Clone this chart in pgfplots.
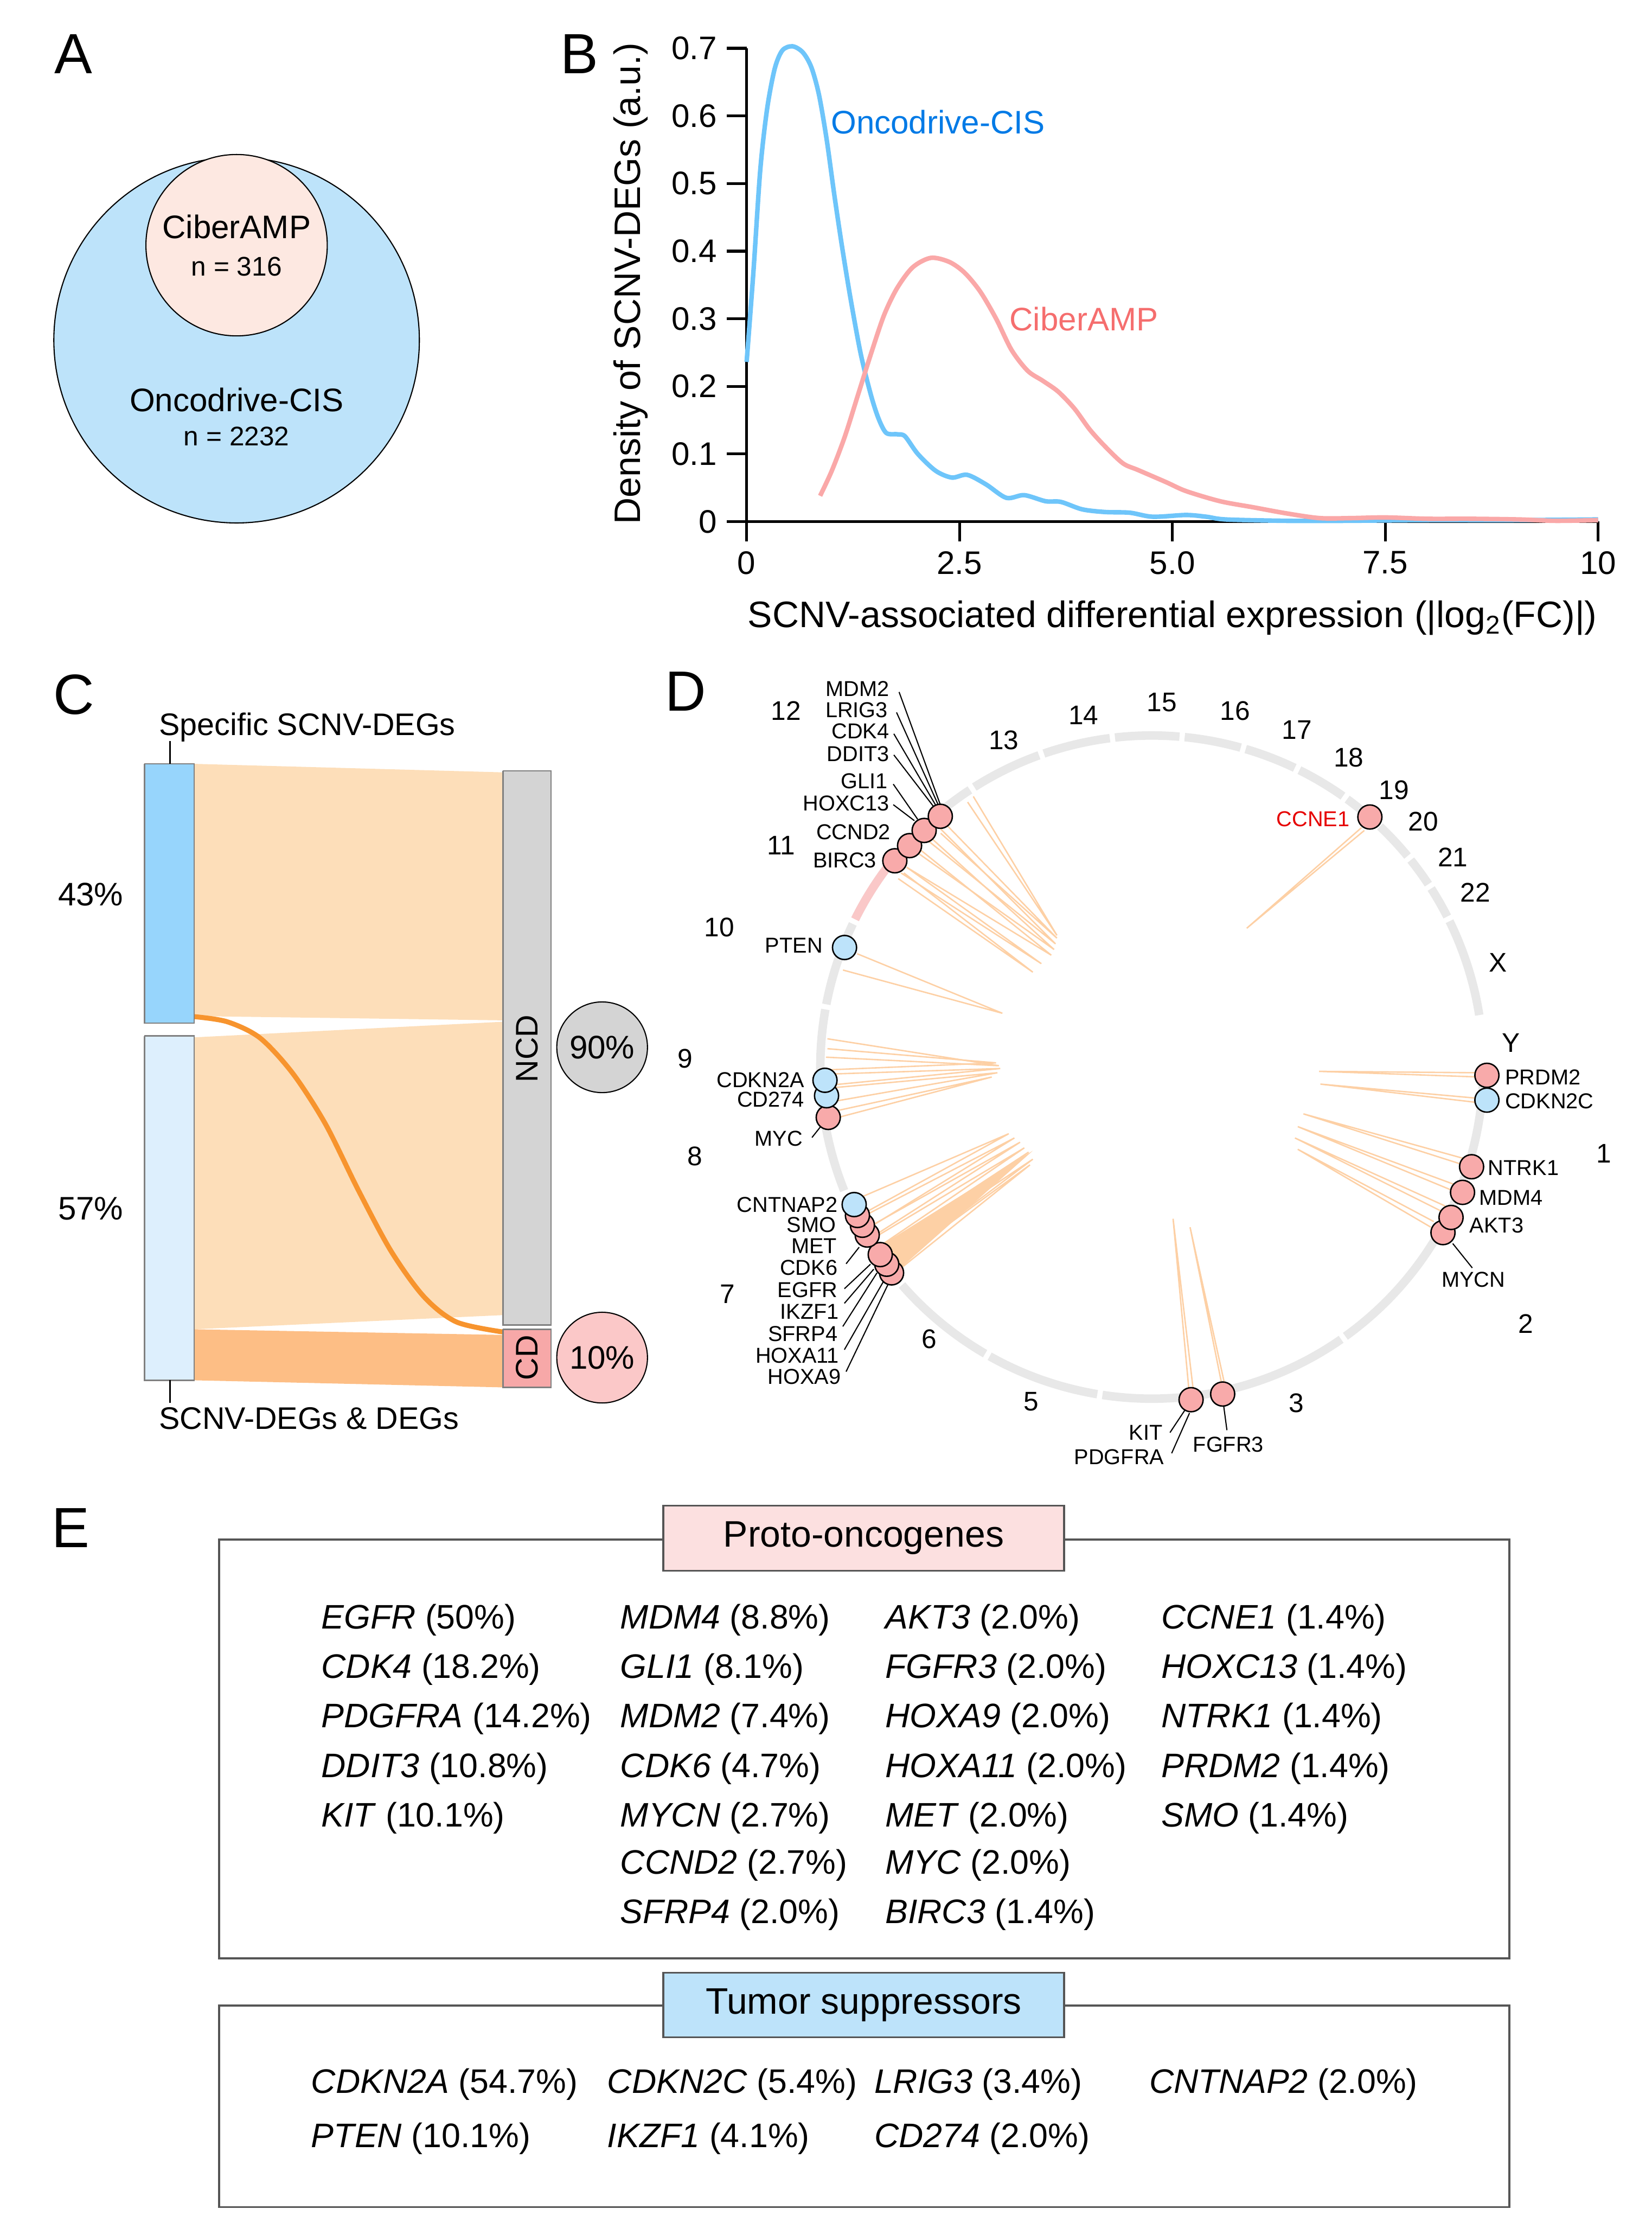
\documentclass[border=0pt]{standalone}
\usepackage{fontspec}
\setmainfont{Liberation Sans}
\usepackage{pgfplots}
\pgfplotsset{compat=1.18}

\definecolor{vennblue}{RGB}{189,227,250}
\definecolor{vennpink}{RGB}{253,232,225}
\definecolor{curveblue}{RGB}{110,197,250}
\definecolor{curvepink}{RGB}{250,168,168}
\definecolor{textblue}{RGB}{0,122,230}
\definecolor{textpink}{RGB}{245,110,110}
\definecolor{sbblue}{RGB}{151,213,252}
\definecolor{sblight}{RGB}{221,239,253}
\definecolor{ncdgrey}{RGB}{212,212,212}
\definecolor{cdpink}{RGB}{247,168,168}
\definecolor{peach}{RGB}{253,222,185}
\definecolor{flowdark}{RGB}{253,190,133}
\definecolor{orangeline}{RGB}{247,148,46}
\definecolor{tenpink}{RGB}{251,200,200}
\definecolor{ringgrey}{RGB}{232,232,232}
\definecolor{ringpink}{RGB}{250,200,200}
\definecolor{genepink}{RGB}{248,170,170}
\definecolor{geneblue}{RGB}{189,227,250}
\definecolor{linkcol}{RGB}{253,208,165}
\definecolor{ccnered}{RGB}{230,0,0}
\definecolor{protofill}{RGB}{252,224,224}
\definecolor{framecol}{RGB}{85,85,85}

\newcommand{\fs}[1]{\fontsize{#1}{#1}\selectfont}
\newcommand{\g}[2]{\textit{#1} (#2\%)}

\tikzset{
  ent/.style={anchor=west, inner sep=0pt, font=\fs{12}},
  gl/.style={inner sep=0pt, font=\fs{7.6}},
  chr/.style={inner sep=0pt, font=\fs{9.5}},
  lead/.style={black, line width=0.4pt},
  panel/.style={inner sep=0pt, font=\fs{20}},
}
\pgfplotsset{canvas/.style={at={(0pt,0pt)}, anchor=north west, x=0.5pt, y=0.5pt,
  y dir=reverse, xmin=0, xmax=1166, ymin=0, ymax=1568, hide axis, clip=false,
  enlargelimits=false}}

\begin{document}
\begin{tikzpicture}
\useasboundingbox (0pt,0pt) rectangle (583pt,-784pt);

% chromosome ring of panel D (centre 813,753 ; radius 234 in picture units)
\foreach \s/\e in {0.5/-26.77, -27.67/-54.28, -55.18/-76.86, -77.76/-98.57,
  -99.47/-119.29, -120.19/-138.91, -139.81/-157.22, -158.12/-174.00,
  -174.90/-190.01, -190.91/-205.58, -206.48/-221.26, -222.16/-236.72,
  -237.62/-250.10, -251.00/-262.72, -263.62/-274.79, -275.69/-285.55,
  -286.45/-295.54, -296.44/-305.20, -306.10/-312.56, -313.46/-320.47,
  -321.37/-326.52, -327.42/-333.00, -333.90/-350.98}
  \draw[ringgrey, line width=3pt] ([shift={(\s:117pt)}]406.5pt,-376.5pt) arc[start angle=\s, end angle=\e, radius=117pt];
\draw[ringpink, line width=3pt] ([shift={(-206.48:117pt)}]406.5pt,-376.5pt) arc[start angle=-206.48, end angle=-218.5, radius=117pt];

% ---------- panel B ----------
\begin{axis}[at={(263.5pt,-184pt)}, anchor=south west,
  x=30.05pt, y=238.5pt, xmin=0, xmax=10, ymin=0, ymax=0.7,
  enlargelimits=false, clip=false,
  axis x line*=bottom, axis y line*=left,
  axis line style={black, line width=1pt},
  tick align=outside, major tick length=7pt,
  tick style={black, line width=1pt},
  xtick={0,2.5,5,7.5,10}, xticklabels={0,2.5,5.0,7.5,10},
  ytick={0,0.1,0.2,0.3,0.4,0.5,0.6,0.7},
  yticklabels={0,0.1,0.2,0.3,0.4,0.5,0.6,0.7},
  tick label style={font=\fs{11.5}},
  xlabel={SCNV-associated differential expression (|log\textsubscript{2}(FC)|)},
  ylabel={Density of SCNV-DEGs (a.u.)},
  label style={font=\fs{13}},
  xlabel style={at={(axis description cs:0.5,-0.204)}, anchor=center},
  ylabel style={at={(axis description cs:-0.136,0.503)}, anchor=center},
]
\addplot[curveblue, line width=1.6pt, smooth] coordinates {
 (0,0.236)(0.08,0.37)(0.16,0.52)(0.24,0.61)(0.33,0.67)(0.42,0.697)(0.54,0.703)
 (0.66,0.694)(0.76,0.672)(0.85,0.631)(0.94,0.565)(1.03,0.483)(1.12,0.407)
 (1.22,0.33)(1.34,0.248)(1.46,0.187)(1.55,0.152)(1.64,0.131)(1.77,0.129)
 (1.86,0.126)(2.01,0.100)(2.22,0.075)(2.41,0.065)(2.59,0.069)(2.81,0.055)
 (3.05,0.035)(3.26,0.039)(3.51,0.030)(3.69,0.029)(3.94,0.018)(4.21,0.014)
 (4.5,0.013)(4.77,0.007)(5.16,0.0096)(5.4,0.007)(5.63,0.003)(6.34,0.001)
 (7,0.001)(8,0.002)(9,0.002)(10,0.003)};
\addplot[curvepink, line width=1.6pt, smooth] coordinates {
 (0.863,0.038)(1.0,0.075)(1.154,0.126)(1.307,0.187)(1.46,0.248)(1.613,0.305)
 (1.766,0.345)(1.95,0.376)(2.163,0.390)(2.38,0.384)(2.56,0.368)(2.744,0.340)
 (2.93,0.300)(3.11,0.254)(3.30,0.223)(3.48,0.208)(3.66,0.192)(3.85,0.167)
 (4.03,0.136)(4.21,0.111)(4.42,0.086)(4.6,0.076)(4.93,0.058)(5.16,0.045)
 (5.56,0.030)(5.95,0.021)(6.34,0.012)(6.73,0.005)(7.1,0.005)(7.5,0.006)
 (8.0,0.004)(8.5,0.004)(9.08,0.003)(9.5,0.001)(10,0.002)};
\end{axis}

% ---------- canvas for panels A, C, D, E (picture units, y down) ----------
\begin{axis}[canvas]

% panel letters
\node[panel] at (52,38) {A};
\node[panel] at (409,38) {B};
\node[panel] at (52,490) {C};
\node[panel] at (484,488) {D};
\node[panel] at (50,1078) {E};

% ---- A: Venn ----
\addplot[only marks, mark=*, mark size=64.5pt, mark options={fill=vennblue, draw=black, line width=0.4pt}] coordinates {(167,240)};
\addplot[only marks, mark=*, mark size=32pt, mark options={fill=vennpink, draw=black, line width=0.4pt}] coordinates {(167,173)};

% ---- B: curve labels ----
\node[font=\fs{11.5}, text=textblue] at (662,86) {Oncodrive-CIS};
\node[font=\fs{11.5}, text=textpink] at (765,225) {CiberAMP};

% ---- C: Sankey ----
\addplot[fill=peach, draw=none] coordinates {(137,539)(355,545)(355,720)(137,717)};
\addplot[fill=peach, draw=none] coordinates {(137,732)(355,721)(355,928)(137,938)};
\addplot[fill=flowdark, draw=none] coordinates {(137,938)(355,942)(355,979)(137,974)};
\addplot[orangeline, line width=1.75pt, smooth] coordinates {
 (137.2,717.4)(160.4,721.0)(183.5,732.4)(206.7,757.5)(229.8,793.3)(252.9,839.8)
 (276.0,882.8)(299.2,915.0)(322.3,932.9)(355.6,940.0)};
\addplot[fill=sbblue, draw=gray, line width=0.5pt] coordinates {(102,539)(137,539)(137,722)(102,722)(102,539)};
\addplot[fill=sblight, draw=gray, line width=0.5pt] coordinates {(102,731)(137,731)(137,974)(102,974)(102,731)};
\addplot[fill=ncdgrey, draw=gray, line width=0.5pt] coordinates {(355,544)(389,544)(389,935)(355,935)(355,544)};
\addplot[fill=cdpink, draw=gray, line width=0.5pt] coordinates {(355,938)(389,938)(389,979)(355,979)(355,938)};
\addplot[only marks, mark=*, mark size=16pt, mark options={fill=ncdgrey, draw=black, line width=0.4pt}] coordinates {(425,739)};
\addplot[only marks, mark=*, mark size=16pt, mark options={fill=tenpink, draw=black, line width=0.4pt}] coordinates {(425,958)};
\node[font=\fs{11}, rotate=90] at (372,740) {NCD};
\node[font=\fs{11}, rotate=90] at (372,958) {CD};
\node[font=\fs{11.5}] at (64,631) {43\%};
\node[font=\fs{11.5}] at (64,853) {57\%};
\node[font=\fs{11}, anchor=west, inner sep=0pt] at (112,513) {Specific SCNV-DEGs};
\node[font=\fs{11}, anchor=west, inner sep=0pt] at (112,1001) {SCNV-DEGs \& DEGs};
\draw[black, line width=0.6pt] (120,523) -- (120,539);
\draw[black, line width=0.6pt] (120,974) -- (120,990);

% ---- D: links ----
\addplot[linkcol, line width=0.5pt] coordinates {(1045,757)(931,756)(1045,760)};
\addplot[linkcol, line width=0.5pt] coordinates {(1043,775)(932,765)(1043,778)};
\addplot[linkcol, line width=0.5pt] coordinates {(1035,818)(920,786)(1033,822)};
\addplot[linkcol, line width=0.5pt] coordinates {(1027,836)(916,795)(1025,840)};
\addplot[linkcol, line width=0.5pt] coordinates {(1020,851)(914,803)(1018,855)};
\addplot[linkcol, line width=0.5pt] coordinates {(1012,862)(916,811)(1010,866)};
\addplot[linkcol, line width=0.5pt] coordinates {(839,979)(828,860)(842,979)};
\addplot[linkcol, line width=0.5pt] coordinates {(862,975)(840,866)(864,975)};
\addplot[linkcol, line width=0.5pt] coordinates {(961,584)(880,655)(963,586)};
\addplot[linkcol, line width=0.5pt] coordinates {(605,846)(712,800)(610,856)};
\addplot[linkcol, line width=0.5pt] coordinates {(610,858)(716,803)(614,866)};
\addplot[linkcol, line width=0.5pt] coordinates {(613,866)(720,806)(617,872)};
\addplot[linkcol, line width=0.5pt] coordinates {(616,874)(723,810)(620,880)};
\addplot[linkcol, line width=0.5pt] coordinates {(621,882)(726,813)(624,888)};
\addplot[linkcol, line width=0.5pt] coordinates {(624,888)(729,818)(628,894)};
\addplot[linkcol, line width=0.5pt] coordinates {(628,894)(727,822)(632,898)};
\addplot[fill=linkcol, draw=none] coordinates {(620,880)(729,812)(632,898)};
\addplot[linkcol, line width=0.5pt] coordinates {(584,733)(705,752)(583,746)};
\addplot[linkcol, line width=0.5pt] coordinates {(584,740)(703,750)(583,755)};
\addplot[linkcol, line width=0.5pt] coordinates {(583,758)(706,754)(583,766)};
\addplot[linkcol, line width=0.5pt] coordinates {(583,768)(704,757)(584,778)};
\addplot[linkcol, line width=0.5pt] coordinates {(585,785)(700,760)(586,790)};
\addplot[linkcol, line width=0.5pt] coordinates {(605,673)(707.5,715)(595,684.5)};
\addplot[linkcol, line width=0.5pt] coordinates {(668,582)(746,662)(664,588)};
\addplot[linkcol, line width=0.5pt] coordinates {(664,585)(745,666)(656,594)};
\addplot[linkcol, line width=0.5pt] coordinates {(658,592)(744,670)(648,602)};
\addplot[linkcol, line width=0.5pt] coordinates {(650,600)(742,674)(640,612)};
\addplot[linkcol, line width=0.5pt] coordinates {(640,612)(735,680)(636,616)};
\addplot[linkcol, line width=0.5pt] coordinates {(638,616)(729,686)(634,620)};
\addplot[linkcol, line width=0.5pt] coordinates {(687,562)(746,660)(683,566)};

% ---- D: genes ----
\addplot[only marks, mark=*, mark size=4.25pt, mark options={fill=genepink, draw=black, line width=0.5pt}] coordinates {
 (1018.5,869.8)(1024.2,859.1)(1032.3,841.4)(1038.7,823.3)(1049.5,758.8)
 (863,983.7)(840.7,987.7)
 (629.3,898.2)(625.9,892.1)(621.3,885.3)(612.1,871.5)(608.7,864.6)(605.2,857.7)
 (584.6,788.5)
 (631.6,607.4)(642,596.7)(652.3,586)(663.7,576)
 (966.9,576.5)};
\addplot[only marks, mark=*, mark size=4.25pt, mark options={fill=geneblue, draw=black, line width=0.5pt}] coordinates {
 (1049.5,776.3)(602.9,850)(583.4,773.2)(582.3,762.3)(596.1,668.6)};

% ---- D: gene labels ----
\node[gl, anchor=east] at (628,486) {MDM2};
\node[gl, anchor=east] at (627,501) {LRIG3};
\node[gl, anchor=east] at (628,516) {CDK4};
\node[gl, anchor=east] at (628,532) {DDIT3};
\node[gl, anchor=east] at (627,551) {GLI1};
\node[gl, anchor=east] at (628,567) {HOXC13};
\node[gl, anchor=east] at (629,587) {CCND2};
\node[gl, anchor=east] at (619,607) {BIRC3};
\node[gl, anchor=east] at (581,667) {PTEN};
\node[gl, anchor=east] at (568,762) {CDKN2A};
\node[gl, anchor=east] at (568,776) {CD274};
\node[gl, anchor=east] at (567,803.5) {MYC};
\node[gl, anchor=east] at (591.5,850) {CNTNAP2};
\node[gl, anchor=east] at (590.3,864.3) {SMO};
\node[gl, anchor=east] at (591,879.2) {MET};
\node[gl, anchor=east] at (591.5,894.7) {CDK6};
\node[gl, anchor=east] at (591.5,910.2) {EGFR};
\node[gl, anchor=east] at (592.6,925.7) {IKZF1};
\node[gl, anchor=east] at (591.5,941.2) {SFRP4};
\node[gl, anchor=east] at (592.6,956.7) {HOXA11};
\node[gl, anchor=east] at (593.8,971.3) {HOXA9};
\node[gl, anchor=east] at (820.9,1010.9) {KIT};
\node[gl, anchor=east] at (822,1028.1) {PDGFRA};
\node[gl, anchor=east, text=ccnered] at (953,578) {CCNE1};
\node[gl, anchor=west] at (1062,760) {PRDM2};
\node[gl, anchor=west] at (1062,777) {CDKN2C};
\node[gl, anchor=west] at (1050,824) {NTRK1};
\node[gl, anchor=west] at (1043.7,845) {MDM4};
\node[gl, anchor=west] at (1037,864.6) {AKT3};
\node[gl] at (1040,903) {MYCN};
\node[gl] at (867,1019.5) {FGFR3};
\draw[lead] (634.6,488.3) -- (663.7,567.8);
\draw[lead] (632.8,502.7) -- (662.6,568.8);
\draw[lead] (630.9,517.8) -- (661.4,569.8);
\draw[lead] (630.9,532.7) -- (660.3,570.9);
\draw[lead] (630.5,553.3) -- (647.7,578.1);
\draw[lead] (630.5,567.8) -- (645.4,579.1);
\draw[lead] (573.1,802.7) -- (578.9,795.4);
\draw[lead] (597.2,891.8) -- (606.4,880.1);
\draw[lead] (596,909.4) -- (614.4,892.1);
\draw[lead] (596,919.7) -- (616.7,895.6);
\draw[lead] (594.9,936) -- (619,898.2);
\draw[lead] (596,952.4) -- (623.6,904.2);
\draw[lead] (597.2,967.9) -- (627,905.9);
\draw[lead] (1025.4,877.5) -- (1039.2,894.7);
\draw[lead] (825.8,1010.9) -- (836.1,995.4);
\draw[lead] (827,1025.5) -- (839.6,997.1);
\draw[lead] (863.7,992) -- (866,1009.2);

% ---- D: chromosome names ----
\node[chr] at (1132,814) {1};
\node[chr] at (1077,934) {2};
\node[chr] at (915,990) {3};
\node[chr] at (728,989) {5};
\node[chr] at (656,945) {6};
\node[chr] at (513.5,913) {7};
\node[chr] at (490.5,816) {8};
\node[chr] at (483.7,747) {9};
\node[chr] at (507.7,654.5) {10};
\node[chr] at (551.3,596.7) {11};
\node[chr] at (554.8,501.7) {12};
\node[chr] at (708.5,522.4) {13};
\node[chr] at (764.7,504.8) {14};
\node[chr] at (820,495.5) {15};
\node[chr] at (871.7,501.7) {16};
\node[chr] at (915.3,515) {17};
\node[chr] at (952,534.7) {18};
\node[chr] at (984,557.5) {19};
\node[chr] at (1004.7,579.8) {20};
\node[chr] at (1025.4,605) {21};
\node[chr] at (1041.4,629.7) {22};
\node[chr] at (1057.5,679.3) {X};
\node[chr] at (1066.7,736) {Y};

% ---- E: gene tables ----
\draw[framecol, line width=0.7pt] (154.6,1086.5) rectangle (1065.3,1382);
\draw[framecol, line width=0.7pt, fill=protofill] (468.1,1062.5) rectangle (751.1,1108.4);
\node[font=\fs{13}] at (609.6,1085.5) {Proto-oncogenes};
\draw[framecol, line width=0.7pt] (154.6,1415.3) rectangle (1065.3,1557.4);
\draw[framecol, line width=0.7pt, fill=vennblue] (468.1,1392) rectangle (751.1,1437.6);
\node[font=\fs{13}] at (609.6,1414.8) {Tumor suppressors};

\node[ent] at (226.4,1143) {\g{EGFR}{50}};
\node[ent] at (226.4,1178) {\g{CDK4}{18.2}};
\node[ent] at (226.4,1213) {\g{PDGFRA}{14.2}};
\node[ent] at (226.4,1248) {\g{DDIT3}{10.8}};
\node[ent] at (226.4,1283) {\g{KIT}{10.1}};
\node[ent] at (437.5,1143) {\g{MDM4}{8.8}};
\node[ent] at (437.5,1178) {\g{GLI1}{8.1}};
\node[ent] at (437.5,1213) {\g{MDM2}{7.4}};
\node[ent] at (437.5,1248) {\g{CDK6}{4.7}};
\node[ent] at (437.5,1283) {\g{MYCN}{2.7}};
\node[ent] at (437.5,1316) {\g{CCND2}{2.7}};
\node[ent] at (437.5,1351) {\g{SFRP4}{2.0}};
\node[ent] at (624.5,1143) {\g{AKT3}{2.0}};
\node[ent] at (624.5,1178) {\g{FGFR3}{2.0}};
\node[ent] at (624.5,1213) {\g{HOXA9}{2.0}};
\node[ent] at (624.5,1248) {\g{HOXA11}{2.0}};
\node[ent] at (624.5,1283) {\g{MET}{2.0}};
\node[ent] at (624.5,1316) {\g{MYC}{2.0}};
\node[ent] at (624.5,1351) {\g{BIRC3}{1.4}};
\node[ent] at (819.3,1143) {\g{CCNE1}{1.4}};
\node[ent] at (819.3,1178) {\g{HOXC13}{1.4}};
\node[ent] at (819.3,1213) {\g{NTRK1}{1.4}};
\node[ent] at (819.3,1248) {\g{PRDM2}{1.4}};
\node[ent] at (819.3,1283) {\g{SMO}{1.4}};

\node[ent] at (219.3,1471) {\g{CDKN2A}{54.7}};
\node[ent] at (219.3,1509) {\g{PTEN}{10.1}};
\node[ent] at (428.3,1471) {\g{CDKN2C}{5.4}};
\node[ent] at (428.3,1509) {\g{IKZF1}{4.1}};
\node[ent] at (616.7,1471) {\g{LRIG3}{3.4}};
\node[ent] at (616.7,1509) {\g{CD274}{2.0}};
\node[ent] at (810.8,1471) {\g{CNTNAP2}{2.0}};
\end{axis}

% ---------- overlay: texts that sit on top of the circles ----------
\begin{axis}[canvas]
\node[font=\fs{11.5}] at (167,160) {CiberAMP};
\node[font=\fs{9.5}] at (167,188) {n = 316};
\node[font=\fs{11.5}] at (167,282) {Oncodrive-CIS};
\node[font=\fs{9.5}] at (167,308) {n = 2232};
\node[font=\fs{11.5}] at (425,739) {90\%};
\node[font=\fs{11.5}] at (425,958) {10\%};
\end{axis}
\end{tikzpicture}
\end{document}
